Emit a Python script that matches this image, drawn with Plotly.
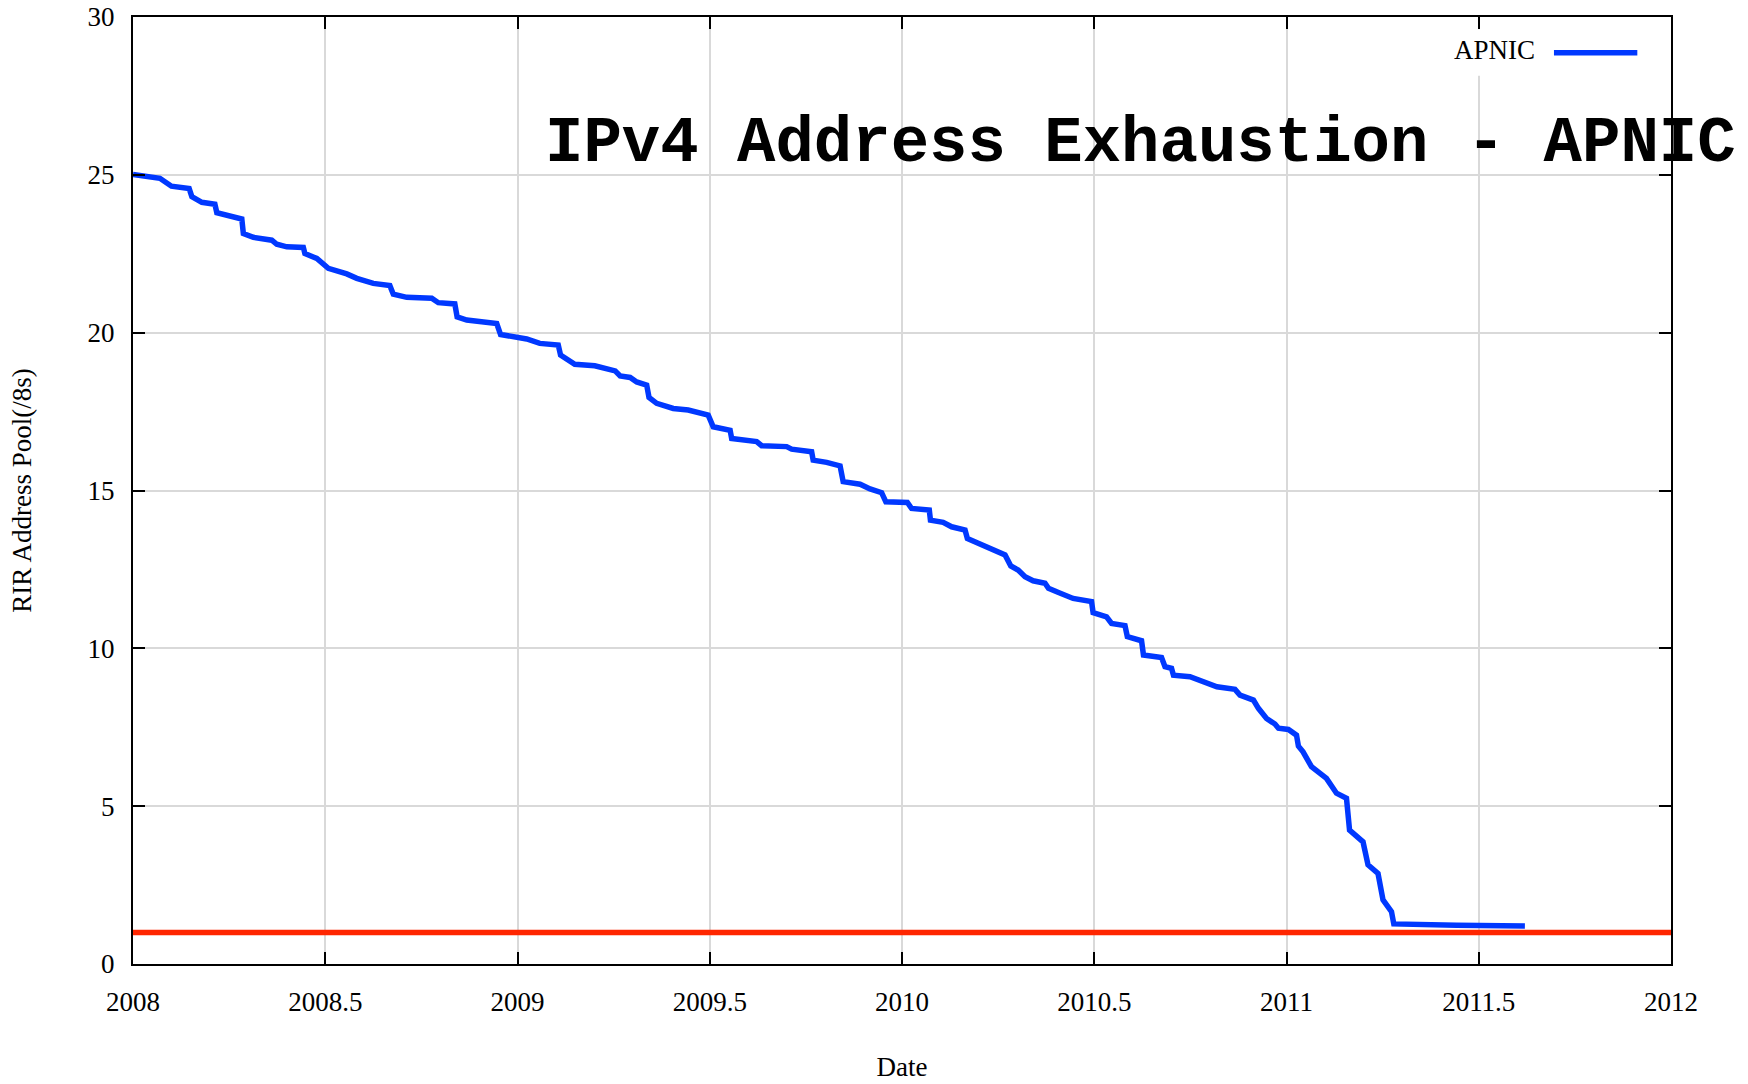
import plotly.graph_objects as go

# APNIC remaining pool (/8s) by decimal date
dates = [2008.000, 2008.070, 2008.100, 2008.146, 2008.153, 2008.179, 2008.213, 2008.218,
         2008.283, 2008.287, 2008.313, 2008.361, 2008.374, 2008.400, 2008.443, 2008.447,
         2008.478, 2008.508, 2008.556, 2008.582, 2008.625, 2008.668, 2008.677, 2008.712,
         2008.777, 2008.794, 2008.837, 2008.843, 2008.868, 2008.946, 2008.956, 2009.007,
         2009.024, 2009.058, 2009.106, 2009.112, 2009.149, 2009.201, 2009.254, 2009.267,
         2009.293, 2009.310, 2009.336, 2009.342, 2009.362, 2009.405, 2009.444, 2009.496,
         2009.509, 2009.553, 2009.557, 2009.622, 2009.635, 2009.700, 2009.713, 2009.765,
         2009.769, 2009.804, 2009.839, 2009.847, 2009.891, 2009.917, 2009.947, 2009.958,
         2010.014, 2010.025, 2010.071, 2010.074, 2010.107, 2010.129, 2010.164, 2010.170,
         2010.194, 2010.229, 2010.268, 2010.283, 2010.302, 2010.320, 2010.341, 2010.372,
         2010.381, 2010.407, 2010.445, 2010.493, 2010.497, 2010.532, 2010.545, 2010.580,
         2010.586, 2010.623, 2010.628, 2010.675, 2010.684, 2010.701, 2010.706, 2010.749,
         2010.780, 2010.819, 2010.866, 2010.879, 2010.914, 2010.927, 2010.948, 2010.970,
         2010.979, 2011.005, 2011.026, 2011.031, 2011.043, 2011.065, 2011.104, 2011.130,
         2011.156, 2011.164, 2011.199, 2011.212, 2011.238, 2011.251, 2011.273, 2011.279,
         2011.442, 2011.620]
pool = [25.01, 24.89, 24.64, 24.57, 24.31, 24.13, 24.07, 23.80,
        23.60, 23.14, 23.02, 22.93, 22.80, 22.72, 22.70, 22.51,
        22.35, 22.04, 21.86, 21.72, 21.56, 21.49, 21.22, 21.12,
        21.09, 20.95, 20.91, 20.50, 20.40, 20.29, 19.94, 19.82,
        19.80, 19.66, 19.61, 19.29, 19.00, 18.95, 18.79, 18.63,
        18.58, 18.44, 18.34, 17.95, 17.76, 17.60, 17.55, 17.39,
        17.02, 16.91, 16.65, 16.55, 16.42, 16.39, 16.31, 16.23,
        15.96, 15.89, 15.78, 15.28, 15.20, 15.05, 14.93, 14.64,
        14.62, 14.43, 14.38, 14.06, 13.99, 13.85, 13.75, 13.48,
        13.35, 13.14, 12.96, 12.61, 12.48, 12.27, 12.14, 12.06,
        11.90, 11.77, 11.58, 11.48, 11.13, 11.00, 10.79, 10.72,
        10.37, 10.24, 9.79, 9.71, 9.42, 9.37, 9.15, 9.10,
        8.94, 8.78, 8.70, 8.52, 8.36, 8.10, 7.78, 7.60,
        7.47, 7.43, 7.25, 6.90, 6.72, 6.25, 5.88, 5.41,
        5.25, 4.24, 3.87, 3.14, 2.87, 2.03, 1.66, 1.27,
        1.23, 1.20]

threshold_x = [2008, 2012]
threshold_y = [1, 1]

x_ticks = [2008, 2008.5, 2009, 2009.5, 2010, 2010.5, 2011, 2011.5, 2012]
x_labels = ["2008", "2008.5", "2009", "2009.5", "2010", "2010.5", "2011", "2011.5", "2012"]
y_ticks = [0, 5, 10, 15, 20, 25, 30]
y_labels = ["0", "5", "10", "15", "20", "25", "30"]

BLUE = "rgb(0,56,255)"
RED = "rgb(255,38,0)"
SERIF = "Liberation Serif, Times New Roman, serif"

fig = go.Figure()
fig.add_trace(go.Scatter(x=threshold_x, y=threshold_y, mode="lines",
                         line=dict(color=RED, width=5.5), showlegend=False, hoverinfo="skip"))
fig.add_trace(go.Scatter(x=dates, y=pool, mode="lines", name="APNIC",
                         line=dict(color=BLUE, width=5.5), showlegend=False))

axis_common = dict(
    showline=True, linecolor="black", linewidth=2, mirror="ticks",
    ticks="inside", ticklen=12, tickwidth=2, tickcolor="black",
    showgrid=True, gridcolor="#d9d9d9", gridwidth=2, zeroline=False,
    tickfont=dict(family=SERIF, size=27, color="black"), automargin=False,
    ticklabeloverflow="allow",
)

fig.update_layout(
    width=1748, height=1084,
    margin=dict(l=133, r=77, t=17, b=120),
    paper_bgcolor="white", plot_bgcolor="white",
    xaxis=dict(range=[2008, 2012], tickmode="array", tickvals=x_ticks, ticktext=x_labels,
               ticklabelstandoff=13,
               title=dict(text="Date", font=dict(family=SERIF, size=27, color="black"), standoff=41),
               **axis_common),
    yaxis=dict(range=[0, 30], tickmode="array", tickvals=y_ticks, ticktext=y_labels,
               ticklabelstandoff=11,
               title=dict(text="RIR Address Pool(/8s)", font=dict(family=SERIF, size=27, color="black"), standoff=48),
               **axis_common),
    shapes=[
        dict(type="rect", xref="paper", yref="paper", x0=0.845, x1=0.988, y0=0.938, y1=0.987,
             fillcolor="white", line=dict(width=0), layer="above"),
        dict(type="line", xref="paper", yref="paper", x0=0.9239, x1=0.9781, y0=0.9623, y1=0.9623,
             line=dict(color=BLUE, width=5.5), layer="above"),
    ],
    annotations=[
        dict(text="APNIC", xref="paper", yref="paper", x=0.9127, y=0.9652,
             xanchor="right", yanchor="middle", showarrow=False,
             font=dict(family=SERIF, size=27, color="black")),
        dict(text="<b>IPv4 Address Exhaustion - APNIC</b>", xref="paper", yref="paper",
             x=0.2666, y=0.866, xanchor="left", yanchor="middle", showarrow=False,
             font=dict(family="Liberation Mono, Courier New, monospace", size=64, color="black")),
    ],
)

# remove the page's default body margin so the figure fills the window exactly
fig.write_html("out.html", config={"displayModeBar": False},
               post_script="document.body.style.margin='0';")
